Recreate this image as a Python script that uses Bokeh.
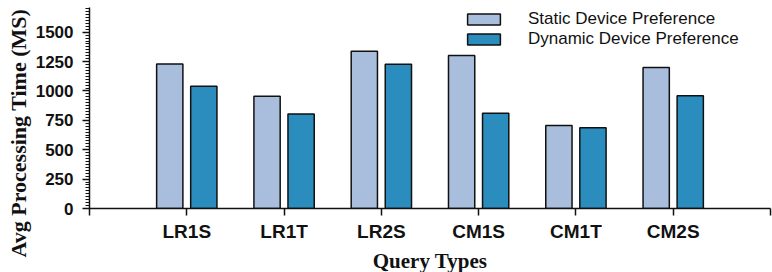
import numpy as np
from bokeh.plotting import figure
from bokeh.models import (ColumnDataSource, FixedTicker, SingleIntervalTicker,
                          Legend, LegendItem, Range1d, Title)
from bokeh.embed import file_html
from bokeh.resources import INLINE

categories = ["LR1S", "LR1T", "LR2S", "CM1S", "CM1T", "CM2S"]
static_pref = [1230, 955, 1338, 1302, 706, 1200]
dynamic_pref = [1040, 805, 1228, 810, 686, 960]
series_names = ["Static Device Preference", "Dynamic Device Preference"]

pos = np.arange(1, len(categories) + 1)
src = ColumnDataSource(dict(
    xs=pos - 0.175, xd=pos + 0.175,
    static=static_pref, dynamic=dynamic_pref,
))

p = figure(frame_width=681, frame_height=201, output_backend="svg",
           toolbar_location=None,
           x_range=Range1d(0, 7), y_range=Range1d(0, 1710),
           min_border_left=89, min_border_right=2, min_border_top=7,
           min_border_bottom=63)
p.outline_line_color = None
p.grid.grid_line_color = None

r1 = p.vbar(x="xs", top="static", width=0.27, source=src,
            fill_color="#a9bedc", line_color="#111111", line_width=1.5)
r2 = p.vbar(x="xd", top="dynamic", width=0.27, source=src,
            fill_color="#2b8cbe", line_color="#111111", line_width=1.5)

# x axis
xa = p.xaxis[0]
xa.ticker = FixedTicker(ticks=list(range(0, 8)))
overrides = {0: "", 7: ""}
for i, c in enumerate(categories):
    overrides[i + 1] = c
xa.major_label_overrides = overrides
xa.minor_tick_line_color = None
xa.major_tick_out = 7
xa.major_tick_in = 0
xa.axis_line_width = 1.5
xa.major_tick_line_width = 1.5
xa.axis_line_color = "#111111"
xa.major_tick_line_color = "#111111"
xa.major_label_text_font = "Liberation Sans"
xa.major_label_text_font_style = "bold"
xa.major_label_text_font_size = "19px"
xa.major_label_text_color = "#111111"
xa.major_label_standoff = 5
xa.axis_label = "Query Types"
xa.axis_label_text_font = "Liberation Serif"
xa.axis_label_text_font_style = "bold"
xa.axis_label_text_font_size = "21px"
xa.axis_label_text_color = "#111111"
xa.axis_label_standoff = 4

# y axis
ya = p.yaxis[0]
ya.ticker = SingleIntervalTicker(interval=250, num_minor_ticks=10)
ya.major_tick_out = 7
ya.major_tick_in = 0
ya.minor_tick_out = 4
ya.minor_tick_in = 0
ya.axis_line_width = 1.5
ya.major_tick_line_width = 1.5
ya.minor_tick_line_width = 1
ya.axis_line_color = "#111111"
ya.major_tick_line_color = "#111111"
ya.minor_tick_line_color = "#111111"
ya.major_label_text_font = "Liberation Sans"
ya.major_label_text_font_style = "bold"
ya.major_label_text_font_size = "17px"
ya.major_label_text_color = "#111111"
ya.major_label_standoff = 9

ytitle = Title(text="Avg Processing Time (MS)", align="left", offset=-49,
               standoff=4, text_font="Liberation Serif",
               text_font_style="bold", text_font_size="22px",
               text_color="#111111")
p.add_layout(ytitle, "left")

legend = Legend(items=[LegendItem(label=series_names[0], renderers=[r1]),
                       LegendItem(label=series_names[1], renderers=[r2])],
                location=(374, 159), padding=0, margin=0, spacing=0,
                glyph_width=41, glyph_height=14, label_height=20,
                label_standoff=24, label_text_font="Liberation Sans",
                label_text_font_size="17px", label_text_color="#111111",
                background_fill_alpha=0, border_line_alpha=0)
p.add_layout(legend)

open("out.html", "w").write(file_html(p, INLINE))
